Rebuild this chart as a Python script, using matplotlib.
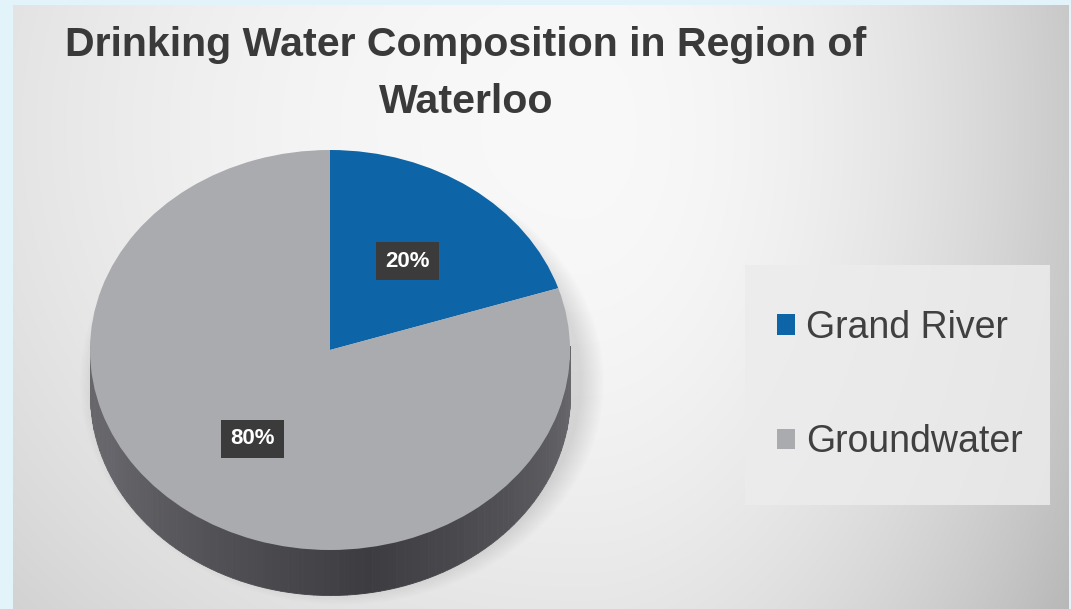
import numpy as np
import matplotlib
matplotlib.use("Agg")
import matplotlib.pyplot as plt
from matplotlib import font_manager
from matplotlib.patches import Rectangle, Ellipse

# ---- data ----
categories = ["Grand River", "Groundwater"]
values = [20, 80]
colors = ["#0d64a6", "#a9abaf"]
title_lines = ["Drinking Water Composition in Region of", "Waterloo"]


def has_font(name):
    try:
        font_manager.findfont(font_manager.FontProperties(family=name),
                              fallback_to_default=False)
        return True
    except Exception:
        return False


narrow = None
for cand in ["Liberation Sans Narrow", "DejaVu Sans Condensed", "Arial Narrow"]:
    if has_font(cand):
        narrow = cand
        break
bold_family = [narrow, "Liberation Sans", "DejaVu Sans"] if narrow else ["Liberation Sans", "DejaVu Sans"]

W, H = 1071, 609
fig = plt.figure(figsize=(W / 100, H / 100), dpi=100)

# ---- background (slide + gradient panel) ----
bg = fig.add_axes([0, 0, 1, 1])
bg.set_xlim(0, W)
bg.set_ylim(H, 0)
bg.axis("off")
yy, xx = np.mgrid[0:H, 0:W]
dx = np.where(xx > 580, (xx - 580) / 510.0, (xx - 580) / 900.0)
dy = (yy - 130) / 800.0
v = 0.975 - 0.2 * (dx ** 2 + dy ** 2)
v = np.clip(v, 0.7, 1.0)
img = np.dstack([v, v, v])
outer = np.array([0.894, 0.953, 0.984])
mask = (xx < 13) | (yy < 5) | (xx > 1068)
img[mask] = outer
bg.imshow(img, extent=(0, W, H, 0), aspect="auto", interpolation="bilinear")
# legend panel
bg.add_patch(Rectangle((745, 265), 305, 240, facecolor="#ececec", alpha=0.85,
                       edgecolor="none"))

# ---- title (fit width to reference) ----
tfont = dict(family=bold_family, weight="bold", color="#3a3a3a",
             fontsize=30, ha="center", va="baseline")
t1 = bg.text(466, 56, title_lines[0], **tfont)
t2 = bg.text(466, 113, title_lines[1], **tfont)
fig.canvas.draw()
r = fig.canvas.get_renderer()
wpx = t1.get_window_extent(r).width
fs = min(31.5, 30 * 803.0 / wpx)
t1.set_fontsize(fs)
t2.set_fontsize(fs)

# ---- pie (elliptical, pseudo 3D) ----
cx, cy, rx, ry = 330, 350, 240, 200
ax = fig.add_axes([0, 0, 1, 1])
ax.patch.set_alpha(0)
xl = (-cx / rx, (W - cx) / rx)
yl = (-(H - cy) / ry, cy / ry)

# soft shadow
for k in range(10):
    s = 1.0 + 0.01 * k
    ax.add_patch(Ellipse((0.05, -0.16), 2 * s, 2 * s * 1.02, facecolor="black",
                         alpha=0.012, edgecolor="none", zorder=0))

# side band under front half
depth = 0.225
N = 90
t = np.linspace(np.pi, 2 * np.pi, N + 1)
side_dark = np.array([0.24, 0.24, 0.255])
side_light = np.array([0.40, 0.40, 0.42])
for i in range(N):
    ts = np.linspace(t[i], t[i + 1], 4)
    xs = np.cos(ts)
    f = (i + 0.5) / N
    w = min(1.0, abs(f - 0.55) * 2.4)
    c = side_dark * (1 - w) + side_light * w
    ax.fill_between(xs, np.sin(ts) - depth, np.sin(ts) + 0.02, color=c,
                    linewidth=0.6, edgecolor=c, zorder=1)

lab_family = bold_family
lab_size = 19 if narrow else 16
wedges, texts, autotexts = ax.pie(
    values, colors=colors, startangle=90, counterclock=False, radius=1,
    autopct="%1.0f%%", pctdistance=0.55,
    wedgeprops=dict(linewidth=0, zorder=2),
    textprops=dict(color="white", fontsize=lab_size, weight="bold",
                   family=lab_family))
for at in autotexts:
    at.set_bbox(dict(boxstyle="square,pad=0.4", facecolor="#3b3b3b",
                     edgecolor="none"))
    at.set_zorder(5)
ax.set_aspect("auto")
ax.set_xlim(*xl)
ax.set_ylim(*yl)
ax.axis("off")

# ---- legend ----
leg = ax.legend(wedges, categories, loc="center",
                bbox_to_anchor=(900 / W, 1 - 385 / H),
                bbox_transform=fig.transFigure, frameon=False,
                prop=dict(family=["Liberation Sans", "DejaVu Sans"], size=27),
                labelcolor="#404040", handlelength=0.48, handleheight=0.48,
                handletextpad=0.3, labelspacing=2.1)

fig.savefig("out.png", dpi=100)
